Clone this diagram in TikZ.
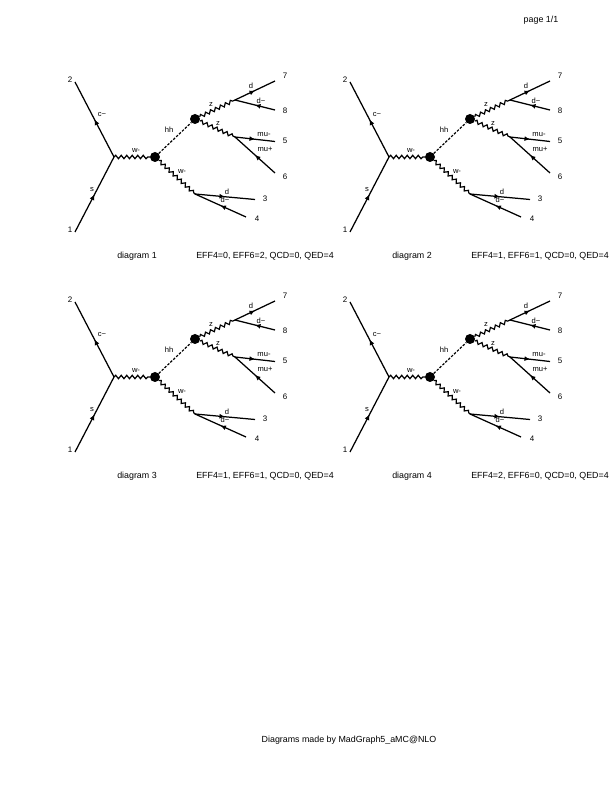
\documentclass[tikz,border=0pt]{standalone}
\usepackage{fontspec}
\setmainfont{Liberation Sans}
\usetikzlibrary{arrows.meta,decorations.markings,decorations.pathmorphing}
\tikzset{
  fermion/.style={black,line width=1.25pt,postaction={decorate},
    decoration={markings,mark=at position 0.5 with {\arrow{Latex[length=5.5bp,width=5bp]}}}},
  boson/.style={black,line width=1.2pt,decorate,
    decoration={snake,segment length=5.5bp,amplitude=1.7bp}},
  scalar/.style={black,line width=1.2pt,dash pattern=on 2.5bp off 1.5bp},
  blob/.style={circle,fill=black,draw=none,inner sep=0pt,minimum size=10bp},
  lab/.style={font=\fontsize{7.6}{9}\selectfont,inner sep=0pt,yshift=-0.8bp},
  num/.style={font=\fontsize{8}{9}\selectfont,inner sep=0pt,xshift=1bp,yshift=-0.8bp},
  caption/.style={font=\fontsize{8.9}{10}\selectfont,inner sep=0pt,yshift=-0.8bp},
}

\begin{document}
\begin{tikzpicture}[x=1bp,y=1bp]
  \path[use as bounding box] (0,0) rectangle (612,792);
  \node[caption] (pagenum) at (541,773) {page 1/1};
  \node[caption] (madeby) at (349,53) {Diagrams made by MadGraph5\_aMC@NLO};

  \foreach \dx/\dy/\n/\orders in {
      0/0/1/{EFF4=0, EFF6=2, QCD=0, QED=4},
      275/0/2/{EFF4=1, EFF6=1, QCD=0, QED=4},
      0/-220/3/{EFF4=1, EFF6=1, QCD=0, QED=4},
      275/-220/4/{EFF4=2, EFF6=0, QCD=0, QED=4}} {
    \begin{scope}[shift={(\dx,\dy)}]
      % vertices
      \coordinate (vs\n) at (114,635);
      \node[blob] (vw\n) at (155,635) {};
      \node[blob] (vh\n) at (195,673) {};
      \coordinate (vd\n) at (195,598);
      \coordinate (vza\n) at (235,692);
      \coordinate (vzb\n) at (235,655);
      % external legs
      \coordinate (leg1\n) at (75,560);
      \coordinate (leg2\n) at (75,710);
      \coordinate (leg3\n) at (255,592.5);
      \coordinate (leg4\n) at (246,575);
      \coordinate (leg5\n) at (275,650.5);
      \coordinate (leg6\n) at (275,619);
      \coordinate (leg7\n) at (275,711);
      \coordinate (leg8\n) at (275,682);

      \draw[fermion] (leg1\n) -- (vs\n);
      \draw[fermion] (vs\n) -- (leg2\n);
      \draw[boson] (vs\n) -- (vw\n);
      \draw[scalar] (vw\n) -- (vh\n);
      \draw[boson] (vw\n) -- (vd\n);
      \draw[boson] (vh\n) -- (vza\n);
      \draw[boson] (vh\n) -- (vzb\n);
      \draw[fermion] (vd\n) -- (leg3\n);
      \draw[fermion] (leg4\n) -- (vd\n);
      \draw[fermion] (vzb\n) -- (leg5\n);
      \draw[fermion] (leg6\n) -- (vzb\n);
      \draw[fermion] (vza\n) -- (leg7\n);
      \draw[fermion] (leg8\n) -- (vza\n);

      % particle labels
      \node[num] (n2\n) at (69,713) {2};
      \node[num] (n1\n) at (69,563) {1};
      \node[num] (n7\n) at (284,717) {7};
      \node[num] (n8\n) at (284,682) {8};
      \node[num] (n5\n) at (284,652) {5};
      \node[num] (n6\n) at (284,616) {6};
      \node[num] (n3\n) at (264,594) {3};
      \node[num] (n4\n) at (256,574) {4};
      \node[lab] (cbar\n) at (102,678) {c\textasciitilde};
      \node[lab] (s\n) at (92,603) {s};
      \node[lab] (wa\n) at (136,642) {w-};
      \node[lab] (hh\n) at (169,663) {hh};
      \node[lab] (wb\n) at (182,621) {w-};
      \node[lab] (za\n) at (211,688) {z};
      \node[lab] (zb\n) at (218,669) {z};
      \node[lab] (da\n) at (251,707) {d};
      \node[lab] (dabar\n) at (261,692) {d\textasciitilde};
      \node[lab] (mum\n) at (264,658) {mu-};
      \node[lab] (mup\n) at (265,643) {mu+};
      \node[lab] (db\n) at (227,601) {d};
      \node[lab] (dbbar\n) at (225,593) {d\textasciitilde};

      \node[caption] (dname\n) at (137,537) {diagram \n};
      \node[caption] (order\n) at (265,537) {\orders};
    \end{scope}
  }
\end{tikzpicture}
\end{document}
